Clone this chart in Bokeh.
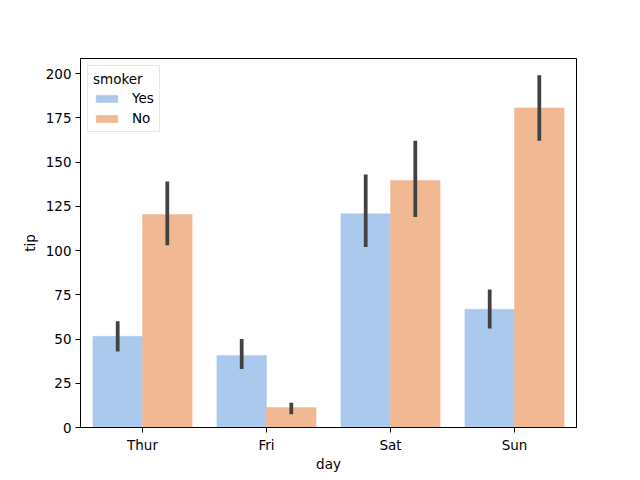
from bokeh.plotting import figure
from bokeh.models import ColumnDataSource, FactorRange, Range1d, FixedTicker, Legend, LegendItem
from bokeh.transform import dodge
from bokeh.embed import file_html
from bokeh.resources import INLINE

days = ["Thur", "Fri", "Sat", "Sun"]
yes_tip = [51.51, 40.71, 120.77, 66.82]
no_tip = [120.32, 11.25, 139.63, 180.57]
yes_lo = [43.0, 33.0, 102.0, 56.0]
yes_hi = [60.0, 50.0, 143.0, 78.0]
no_lo = [103.0, 7.5, 119.0, 162.0]
no_hi = [139.0, 14.0, 162.0, 199.0]
y_ticks = [0, 25, 50, 75, 100, 125, 150, 175, 200]

src = ColumnDataSource(dict(day=days, yes=yes_tip, no=no_tip,
                            yes_lo=yes_lo, yes_hi=yes_hi, no_lo=no_lo, no_hi=no_hi))

FONT = "DejaVu Sans"
p = figure(x_range=FactorRange(factors=days, range_padding=0),
           y_range=Range1d(0, 208.5),
           frame_width=496, frame_height=369,
           width=632, height=472,
           min_border_left=80, min_border_right=56, min_border_top=58, min_border_bottom=45,
           output_backend="svg", toolbar_location=None)

c_yes = "#abc9ed"
c_no = "#f0b893"
r_yes = p.vbar(x=dodge("day", -0.2, range=p.x_range), top="yes", width=0.4, source=src,
               fill_color=c_yes, line_color=c_yes, line_width=0.5)
r_no = p.vbar(x=dodge("day", 0.2, range=p.x_range), top="no", width=0.4, source=src,
              fill_color=c_no, line_color=c_no, line_width=0.5)
p.segment(x0=dodge("day", -0.2, range=p.x_range), x1=dodge("day", -0.2, range=p.x_range),
          y0="yes_lo", y1="yes_hi", source=src, line_color="#424242", line_width=3.75)
p.segment(x0=dodge("day", 0.2, range=p.x_range), x1=dodge("day", 0.2, range=p.x_range),
          y0="no_lo", y1="no_hi", source=src, line_color="#424242", line_width=3.75)

p.xgrid.visible = False
p.ygrid.visible = False
p.outline_line_color = "black"
p.outline_line_width = 1
p.background_fill_color = "white"
p.border_fill_color = "white"

p.yaxis.ticker = FixedTicker(ticks=y_ticks)
for ax in (p.xaxis[0], p.yaxis[0]):
    ax.major_label_text_font = FONT
    ax.major_label_text_font_size = "13.5px"
    ax.major_label_text_color = "black"
    ax.axis_label_text_font = FONT
    ax.axis_label_text_font_size = "13.5px"
    ax.axis_label_text_font_style = "normal"
    ax.axis_label_text_color = "black"
    ax.major_tick_in = 0
    ax.major_tick_out = 5
    ax.minor_tick_in = 0
    ax.minor_tick_out = 0
    ax.major_tick_line_color = "black"
    ax.axis_line_color = "black"
    ax.major_label_standoff = 4
p.xaxis.axis_label = "day"
p.yaxis.axis_label = "tip"
p.xaxis.axis_label_standoff = 0
p.yaxis.axis_label_standoff = 5
p.xaxis.group_text_font_size = "0px"

legend = Legend(items=[LegendItem(label="Yes", renderers=[r_yes]),
                       LegendItem(label="No", renderers=[r_no])],
                location="top_left", title="smoker",
                title_text_font=FONT, title_text_font_size="13.5px", title_text_font_style="normal",
                title_text_color="black", title_standoff=3,
                label_text_font=FONT, label_text_font_size="13.5px", label_text_color="black",
                glyph_width=27, glyph_height=9, label_standoff=12,
                spacing=4, padding=5, margin=7,
                border_line_color="#d0d0d0", border_line_width=1,
                background_fill_alpha=0.8)
p.add_layout(legend)

open("out.html", "w").write(file_html(p, INLINE))
